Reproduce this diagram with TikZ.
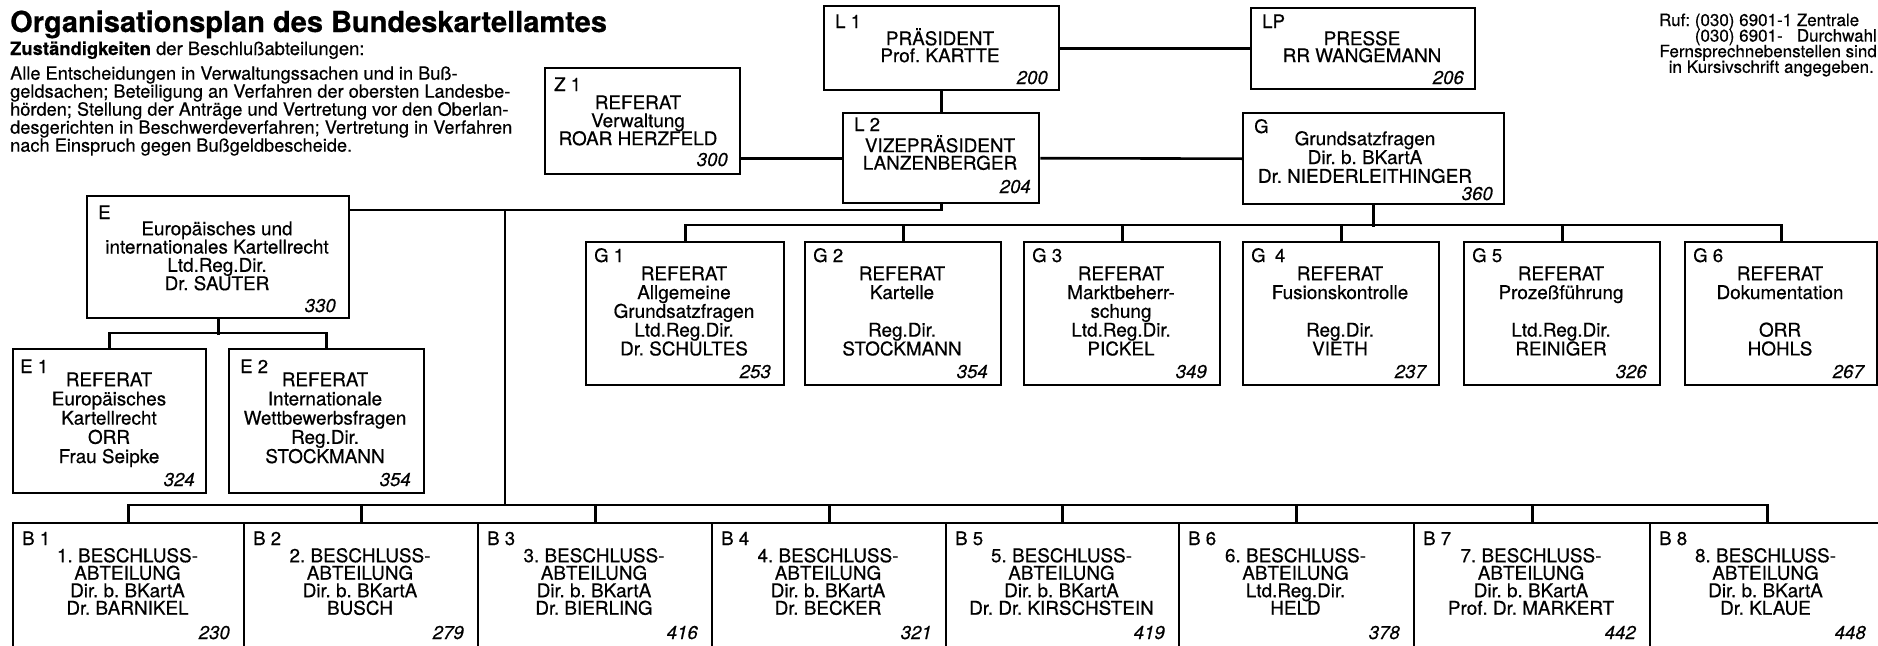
\documentclass[tikz,border=0pt]{standalone}
\usepackage{fontspec}
\setmainfont{TeX Gyre Heros}[FakeBold=0.5]
\usetikzlibrary{calc}
\newlength{\dwlen}
\newcommand{\obox}[5]{\node[orgbox, minimum width={(#4)-(#2)}, minimum height={(#5)-(#3)}] (#1) at (#2,#3) {};}
\newcommand{\otext}[5]{\node[txt=#4] (#1) at (#2,{#3-18}) {\rule{0pt}{18pt}#5};}
\begin{document}
\frenchspacing
\begin{tikzpicture}[x=1pt,y=-1pt,
  orgbox/.style={draw, line width=2.4pt, rectangle, inner sep=0pt, anchor=north west},
  conn/.style={line width=2.6pt},
  lbl/.style={inner sep=0pt, anchor=base west, font={\fontsize{18.6}{18}\selectfont}},
  num/.style={inner sep=0pt, anchor=base east, font={\fontsize{18.6}{18}\selectfont\itshape}},
  txt/.style={inner sep=0pt, anchor=north, align=center, font={\fontsize{18.9}{#1}\selectfont\lineskiplimit=-50pt}},
  txt/.default=18.5,
  plain/.style={inner sep=0pt, anchor=base west, font={\fontsize{18.4}{18}\selectfont}},
  ruf/.style={inner sep=0pt, anchor=base east, font={\fontsize{17}{16}\selectfont}}]
\useasboundingbox (0,0) rectangle (1878,645);

% ---- header texts
\node[inner sep=0pt, anchor=base west, font={\fontsize{29}{30}\selectfont\bfseries}] (title) at (10,32) {Organisationsplan des Bundeskartellamtes};
\node[plain] (subtitle) at (10,55) {\textbf{Zuständigkeiten} der Beschlußabteilungen:};
\node[inner sep=0pt, anchor=north west, align=left, font={\fontsize{18.2}{18}\selectfont\lineskiplimit=-50pt}] (para) at (10,{79.5-18}) {\rule{0pt}{18pt}Alle Entscheidungen in Verwaltungssachen und in Buß-\\geldsachen; Beteiligung an Verfahren der obersten Landesbe-\\hörden; Stellung der Anträge und Vertretung vor den Oberlan-\\desgerichten in Beschwerdeverfahren; Vertretung in Verfahren\\nach Einspruch gegen Bußgeldbescheide.};

\node[ruf] (ruf1) at (1877,26) {\settowidth{\dwlen}{Durchwahl}Ruf: (030) 6901-1 \makebox[\dwlen][l]{Zentrale}};
\node[ruf] (ruf2) at (1877,41.6) {(030) 6901-\phantom{1 }Durchwahl};
\node[ruf] (ruf3) at (1877,57.2) {Fernsprechnebenstellen sind};
\node[ruf] (ruf4) at (1874,72.8) {in Kursivschrift angegeben.};

% ---- top boxes
\obox{l1}{823}{5}{1058}{89}
\node[lbl] (l1id) at (835,28) {L 1};
\otext{l1t}{940}{45}{17}{PRÄSIDENT\\Prof. KARTTE}
\node[num] (l1n) at (1048,84) {200};

\obox{lp}{1250}{7}{1474}{88}
\node[lbl] (lpid) at (1262,28) {LP};
\otext{lpt}{1362}{45}{17}{PRESSE\\RR WANGEMANN}
\node[num] (lpn) at (1464,84) {206};

\obox{z1}{544}{67}{739}{173}
\node[lbl] (z1id) at (554,91) {Z 1};
\otext{z1t}{638}{109}{18}{REFERAT\\Verwaltung\\ROAR HERZFELD}
\node[num] (z1n) at (728,166) {300};

\obox{l2}{842}{112}{1038}{202}
\node[lbl] (l2id) at (854,131) {L 2};
\otext{l2t}{940}{152}{17.5}{VIZEPRÄSIDENT\\LANZENBERGER}
\node[num] (l2n) at (1031,193) {204};

\obox{g}{1242}{112}{1503}{203}
\node[lbl] (gid) at (1254,133) {G};
\otext{gt}{1365}{145}{18.8}{Grundsatzfragen\\Dir. b. BKartA\\Dr. NIEDERLEITHINGER}
\node[num] (gn) at (1493,200) {360};

% ---- E group
\obox{e}{86}{195}{348}{317}
\node[lbl] (eid) at (98,219) {E};
\otext{et}{217}{235}{18.3}{Europäisches und\\internationales Kartellrecht\\Ltd.Reg.Dir.\\Dr. SAUTER}
\node[num] (en) at (336,312) {330};

\obox{e1}{12}{348}{205}{492}
\node[lbl] (e1id) at (20,373) {E 1};
\otext{e1t}{109}{386}{19.2}{REFERAT\\Europäisches\\Kartellrecht\\ORR\\Frau Seipke}
\node[num] (e1n) at (195,486) {324};

\obox{e2}{228}{348}{423}{492}
\node[lbl] (e2id) at (240,373) {E 2};
\otext{e2t}{325}{386}{19.2}{REFERAT\\Internationale\\Wettbewerbsfragen\\Reg.Dir.\\STOCKMANN}
\node[num] (e2n) at (411,486) {354};

% ---- G row
\obox{g1}{585}{241}{783}{384}
\node[lbl] (g1id) at (594,262) {G 1};
\otext{g1t}{684}{280}{18.8}{REFERAT\\Allgemeine\\Grundsatzfragen\\Ltd.Reg.Dir.\\Dr. SCHULTES}
\node[num] (g1n) at (771,378) {253};

\obox{g2}{804}{241}{1000}{384}
\node[lbl] (g2id) at (813,262) {G 2};
\otext{g2t}{902}{280}{18.8}{REFERAT\\Kartelle\\[18.8pt]Reg.Dir.\\STOCKMANN}
\node[num] (g2n) at (988,378) {354};

\obox{g3}{1023}{241}{1219}{384}
\node[lbl] (g3id) at (1032,262) {G 3};
\otext{g3t}{1121}{280}{18.8}{REFERAT\\Marktbeherr-\\schung\\Ltd.Reg.Dir.\\PICKEL}
\node[num] (g3n) at (1207,378) {349};

\obox{g4}{1242}{241}{1438}{384}
\node[lbl] (g4id) at (1251,262) {G\enspace 4};
\otext{g4t}{1340}{280}{18.8}{REFERAT\\Fusionskontrolle\\[18.8pt]Reg.Dir.\\VIETH}
\node[num] (g4n) at (1426,378) {237};

\obox{g5}{1463}{241}{1659}{384}
\node[lbl] (g5id) at (1472,262) {G 5};
\otext{g5t}{1561}{280}{18.8}{REFERAT\\Prozeßführung\\[18.8pt]Ltd.Reg.Dir.\\REINIGER}
\node[num] (g5n) at (1647,378) {326};

\obox{g6}{1684}{241}{1876}{384}
\node[lbl] (g6id) at (1693,262) {G 6};
\otext{g6t}{1780}{280}{18.8}{REFERAT\\Dokumentation\\[18.8pt]ORR\\HOHLS}
\node[num] (g6n) at (1864,378) {267};

% ---- B row
\begin{scope}
\clip (0,0) rectangle (1878,645);
\obox{b1}{12}{522}{243}{652}
\obox{b2}{243}{522}{477}{652}
\obox{b3}{477}{522}{711}{652}
\obox{b4}{711}{522}{945}{652}
\obox{b5}{945}{522}{1178}{652}
\obox{b6}{1178}{522}{1413}{652}
\obox{b7}{1413}{522}{1649}{652}
\obox{b8}{1649}{522}{1884}{652}
\end{scope}
\node[lbl] (b1id) at (22,545) {B 1};
\otext{b1t}{127.5}{562}{17.5}{1. BESCHLUSS-\\ABTEILUNG\\Dir. b. BKartA\\Dr. BARNIKEL}
\node[num] (b1n) at (230,639) {230};
\node[lbl] (b2id) at (253,545) {B 2};
\otext{b2t}{360}{562}{17.5}{2. BESCHLUSS-\\ABTEILUNG\\Dir. b. BKartA\\BUSCH}
\node[num] (b2n) at (464,639) {279};
\node[lbl] (b3id) at (487,545) {B 3};
\otext{b3t}{594}{562}{17.5}{3. BESCHLUSS-\\ABTEILUNG\\Dir. b. BKartA\\Dr. BIERLING}
\node[num] (b3n) at (698,639) {416};
\node[lbl] (b4id) at (721,545) {B 4};
\otext{b4t}{828}{562}{17.5}{4. BESCHLUSS-\\ABTEILUNG\\Dir. b. BKartA\\Dr. BECKER}
\node[num] (b4n) at (932,639) {321};
\node[lbl] (b5id) at (955,545) {B 5};
\otext{b5t}{1061.5}{562}{17.5}{5. BESCHLUSS-\\ABTEILUNG\\Dir. b. BKartA\\Dr. Dr. KIRSCHSTEIN}
\node[num] (b5n) at (1165,639) {419};
\node[lbl] (b6id) at (1188,545) {B 6};
\otext{b6t}{1295.5}{562}{17.5}{6. BESCHLUSS-\\ABTEILUNG\\Ltd.Reg.Dir.\\HELD}
\node[num] (b6n) at (1400,639) {378};
\node[lbl] (b7id) at (1423,545) {B 7};
\otext{b7t}{1531}{562}{17.5}{7. BESCHLUSS-\\ABTEILUNG\\Dir. b. BKartA\\Prof. Dr. MARKERT}
\node[num] (b7n) at (1636,639) {442};
\node[lbl] (b8id) at (1659,545) {B 8};
\otext{b8t}{1765.5}{562}{17.5}{8. BESCHLUSS-\\ABTEILUNG\\Dir. b. BKartA\\Dr. KLAUE}
\node[num] (b8n) at (1866,639) {448};

% ---- connectors
\draw[conn] (l1.east) -- (l1.east -| lp.west);
\draw[conn] (l2.north) -- (l2.north |- l1.south);
\draw[conn] (z1.east |- l2.west) -- (l2.west);
\draw[conn] (l2.east) -- (g.west);
\coordinate (ehook) at ($(e.north east)+(0,15)$);
\draw[conn] (l2.south) |- (ehook);
\coordinate (spine) at (505,210);
\coordinate (bbus) at (505,505);
\draw[conn] (spine) -- (bbus);
\draw[conn] (b1.north) -- ++(0,-17) -| (b8.north);
\foreach \b in {b2,b3,b4,b5,b6,b7} \draw[conn] (\b.north) -- ++(0,-17);
\draw[conn] (g.south) -- ++(0,22);
\draw[conn] (g1.north) -- ++(0,-16) -| (g6.north);
\foreach \b in {g2,g3,g4,g5} \draw[conn] (\b.north) -- ++(0,-16);
\draw[conn] (e.south) -- ++(0,16);
\draw[conn] (e1.north) -- ++(0,-15) -| (e2.north);
\end{tikzpicture}
\end{document}
